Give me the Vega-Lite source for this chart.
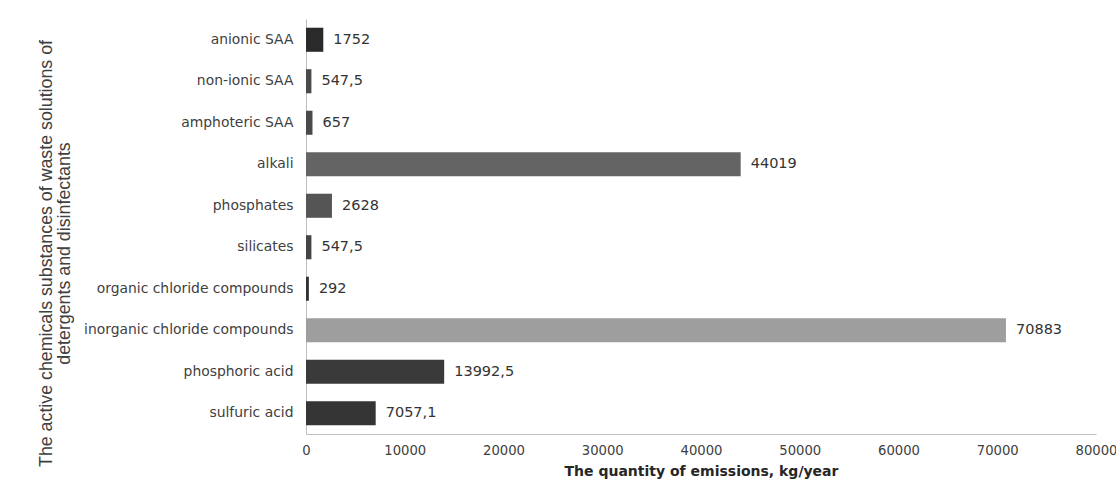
{
  "$schema": "https://vega.github.io/schema/vega-lite/v6.json",
  "width": 790,
  "height": 415,
  "autosize": {"type": "none"},
  "padding": {"left": 306, "top": 19, "right": 20, "bottom": 61},
  "background": "white",
  "config": {"view": {"stroke": null}, "font": "Liberation Sans"},
  "data": {
    "values": [
      {"substance": "anionic SAA", "value": 1752, "label": "1752"},
      {"substance": "non-ionic SAA", "value": 547.5, "label": "547,5"},
      {"substance": "amphoteric SAA", "value": 657, "label": "657"},
      {"substance": "alkali", "value": 44019, "label": "44019"},
      {"substance": "phosphates", "value": 2628, "label": "2628"},
      {"substance": "silicates", "value": 547.5, "label": "547,5"},
      {"substance": "organic chloride compounds", "value": 292, "label": "292"},
      {"substance": "inorganic chloride compounds", "value": 70883, "label": "70883"},
      {"substance": "phosphoric acid", "value": 13992.5, "label": "13992,5"},
      {"substance": "sulfuric acid", "value": 7057.1, "label": "7057,1"}
    ]
  },
  "encoding": {
    "y": {
      "field": "substance",
      "type": "nominal",
      "sort": null,
      "scale": {"paddingInner": 0.42, "paddingOuter": 0.21},
      "axis": {
        "title": ["The active chemicals substances of waste solutions of", "detergents and disinfectants"],
        "titleFont": "Liberation Sans",
        "titleFontSize": 17.8,
        "titleFontWeight": "normal",
        "titleColor": "#404040",
        "titleX": -269,
        "titleY": 234,
        "titleBaseline": "top",
        "titleLineHeight": 18,
        "labelFont": "DejaVu Sans",
        "labelFontSize": 13.9,
        "labelColor": "#404040",
        "labelPadding": 13,
        "ticks": false,
        "domainColor": "#bfbfbf",
        "labelLimit": 300
      }
    },
    "x": {
      "field": "value",
      "type": "quantitative",
      "scale": {"domain": [0, 80000], "nice": false},
      "axis": {
        "title": "The quantity of emissions, kg/year",
        "titleFont": "DejaVu Sans",
        "titleFontSize": 14,
        "titleFontWeight": "bold",
        "titleColor": "#262626",
        "titlePadding": 8,
        "format": "d",
        "values": [0, 10000, 20000, 30000, 40000, 50000, 60000, 70000, 80000],
        "labelFont": "DejaVu Sans",
        "labelFontSize": 13.2,
        "labelColor": "#404040",
        "labelPadding": 10,
        "ticks": false,
        "grid": false,
        "domainColor": "#bfbfbf",
        "labelFlush": false,
        "labelOverlap": false
      }
    }
  },
  "layer": [
    {
      "mark": {"type": "bar"},
      "encoding": {
        "color": {
          "field": "substance",
          "type": "nominal",
          "legend": null,
          "scale": {
            "domain": ["anionic SAA", "non-ionic SAA", "amphoteric SAA", "alkali", "phosphates", "silicates", "organic chloride compounds", "inorganic chloride compounds", "phosphoric acid", "sulfuric acid"],
            "range": ["#2a2a2a", "#4a4a4a", "#4a4a4a", "#646464", "#555555", "#444444", "#333333", "#9e9e9e", "#3a3a3a", "#353535"]
          }
        }
      }
    },
    {
      "mark": {"type": "text", "align": "left", "baseline": "middle", "dx": 10, "font": "DejaVu Sans", "fontSize": 14.5, "color": "#333333"},
      "encoding": {"text": {"field": "label"}}
    }
  ]
}
